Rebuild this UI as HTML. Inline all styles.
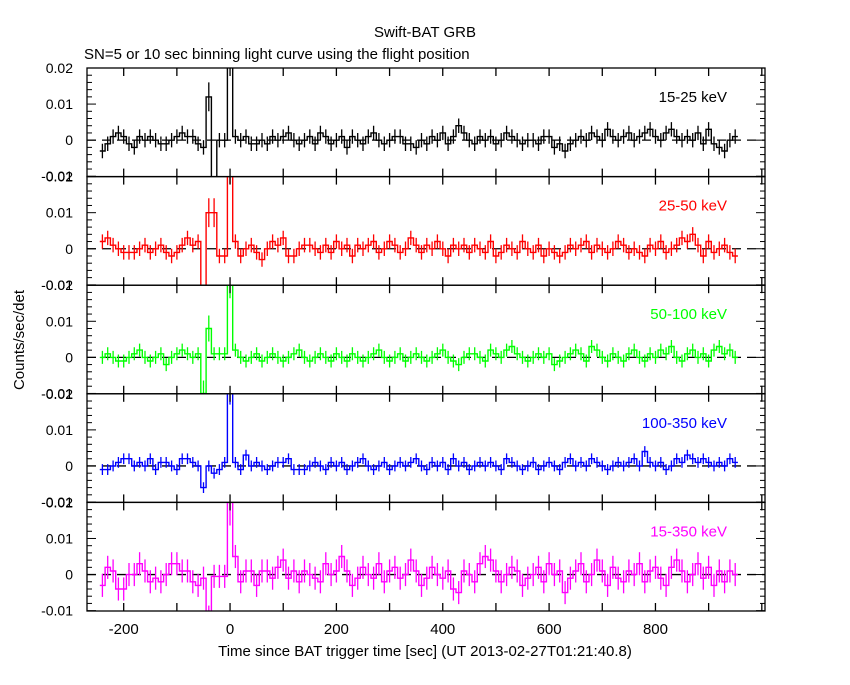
<!DOCTYPE html>
<html><head><meta charset="utf-8"><style>
body{margin:0;background:#fff}
svg{font-family:"Liberation Sans",sans-serif}
</style></head><body>
<svg id="chart" width="850" height="680" viewBox="0 0 850 680">
<rect width="850" height="680" fill="#fff"/>
<text x="425" y="37" font-size="15" text-anchor="middle">Swift-BAT GRB</text>
<text x="84" y="59" font-size="15">SN=5 or 10 sec binning light curve using the flight position</text>
<text transform="translate(24,340) rotate(-90)" font-size="15" text-anchor="middle">Counts/sec/det</text>
<text x="425" y="656" font-size="15" text-anchor="middle">Time since BAT trigger time [sec] (UT 2013-02-27T01:21:40.8)</text>
<g id="plots"></g>
</svg>
<script>
// data (units of 1e-3 counts/sec/det), 10 s bins starting at -245 s
const binStart = -245;
const binWidth = 10;
const bands = ["15-25 keV","25-50 keV","50-100 keV","100-350 keV","15-350 keV"];
const colors = ["#000","#f00","#0f0","#00f","#f0f"];
const errs = [2,2,1.8,1.5,3.2];
const yTicks = [0.02,0.01,0,-0.01];
const yTickLabels = ["0.02","0.01","0","-0.01"];
const xTicks = [-200,0,200,400,600,800];
const s1 = [-3,-1,1,2,1,-1,-2,1,0,1,0,-1,-1,0,1,2,1,1,-1,-2,
12,-20,0,0,25,1,0,1,-1,-1, 0,-1,1,0,1,2,0,-1,0,1, -1,2,1,-1,0,1,-2,1,0,-1,
1,2,0,-1,0,1,1,-1,-1,-2, 0,-1,1,0,2,-1,1,4,2,0, -1,1,0,1,-1,0,2,1,0,-1,
0,0,-1,1,1,-2,-1,-3,-1,0, 1,0,2,1,0,3,1,0,1,2, 0,1,2,3,1,0,2,3,1,0, 1,0,2,-1,3,-1,-2,-3,0,1];
const s2 = [2,3,1,0,-1,-1,-1,0,1,-1,0,1,-1,-2,-1,1,3,1,2,-15,
10,10,-2,-2,22,2,-2,0,1,-1, -3,0,2,1,3,-2,-2,0,1,1, 0,-1,1,-1,2,0,1,-2,1,0,
1,2,-1,0,2,1,-1,0,3,1, -1,1,0,2,0,-2,1,0,1,-1, 1,0,-1,2,-2,-1,1,0,-1,2,
0,-1,1,-2,0,-1,-2,-1,1,0, 1,2,-1,1,0,-1,0,2,1,-1, 0,-1,-2,1,0,2,-1,0,1,3, 2,4,1,-2,2,-1,0,1,-1,-2];
const s3 = [0,1,0,-1,-1,0,1,2,0,-1,0,1,-2,0,1,2,1,0,1,-10,
8,1,1,1,20,2,0,-1,0,1, -1,0,1,0,-1,0,1,2,0,-1, 0,1,0,-1,1,0,-1,1,0,-1,
0,1,2,0,-1,0,1,-1,0,1, 0,-1,0,1,2,0,-1,-2,0,1, 1,0,-1,2,1,0,2,3,1,0,
-1,0,1,0,1,-2,-1,0,1,2, 1,-1,3,2,0,-1,1,0,-1,1, 2,0,-1,1,0,2,1,3,0,-1, 1,2,0,1,-1,2,3,1,2,0];
const s4 = [-1,-1,0,1,2,2,0,1,0,2,-1,1,1,0,-1,2,2,1,0,-6,
0,-2,-1,1,20,1,-1,3,0,1, 0,-1,0,1,1,2,-1,-1,-1,0, 1,0,-1,1,0,1,-1,0,1,2,
0,-1,0,1,-1,0,1,0,1,2, 0,-1,1,0,1,-1,2,0,1,-1, 0,1,0,1,0,-1,2,1,0,-1,
0,1,-1,0,1,0,-1,1,2,0, 1,0,2,1,0,-1,0,1,0,1, 2,0,4,1,0,1,-1,0,2,1, 3,2,1,2,1,0,1,0,2,1];
const s5 = [-3,2,1,-4,-4,0,0,3,1,-2,-1,-2,0,3,3,1,1,-2,-3,-1,
-15,-0.5,-0.5,-0.5,20,5,-2,1,1,-3, 1,1,-1,2,4,-1,1,-2,1,0, -1,-2,3,0,1,5,1,-3,-1,2,
0,-1,3,-2,1,2,-1,0,4,1, -3,-1,2,0,-1,1,-4,-5,1,0, -2,3,5,4,1,-2,0,2,1,-3,
-1,0,2,-2,3,0,1,-5,-1,1, 3,-2,0,4,1,-3,2,-1,-2,1, 0,3,-2,1,2,-1,-3,2,4,1, -2,0,3,-1,2,-3,1,-2,1,0];
const series = [s1,s2,s3,s4,s5];

const NS="http://www.w3.org/2000/svg";
const X0=87, X1=765, tMin=-269, tMax=1006;
const panelTops=[68,176.6,285.2,393.8,502.4], PH=108.6, vMin=-0.0101, vMax=0.02;
const xs=t=>X0+(t-tMin)/(tMax-tMin)*(X1-X0);
const plots=document.getElementById('plots');
function mk(tag,attrs,parent){const e=document.createElementNS(NS,tag);for(const k in attrs)e.setAttribute(k,attrs[k]);(parent||plots).appendChild(e);return e;}

series.forEach((s,p)=>{
  const top=panelTops[p];
  const ys=v=>top+(vMax-v)/(vMax-vMin)*PH;
  const g=mk('g',{});
  
  
  const cp=mk('clipPath',{id:'c'+p},g);
  mk('rect',{x:X0,y:top,width:X1-X0,height:PH},cp);
  const inner=mk('g',{'clip-path':'url(#c'+p+')'},g);
  const zl=mk('line',{x1:X0,x2:X1,y1:ys(0),y2:ys(0),stroke:'#000','stroke-width':1.3,'stroke-dasharray':'9,6'},inner);
  
  
  let d='';
  s.forEach((v,i)=>{
    const t=binStart+i*binWidth, y=ys(v*1e-3);
    d+=(i?'L':'M')+xs(t).toFixed(1)+','+y.toFixed(1)+'L'+xs(t+binWidth).toFixed(1)+','+y.toFixed(1);
    const e=errs[p]*(Math.abs(v)>7?2:1)*1e-3;
    const xc=xs(t+binWidth/2).toFixed(1);
    const eb=mk('line',{x1:xc,x2:xc,y1:ys(v*1e-3+e),y2:ys(v*1e-3-e),stroke:colors[p],'stroke-width':1.3},inner);
    
    
  });
  const path=mk('path',{d:d,fill:'none',stroke:colors[p],'stroke-width':1.4},inner);
  
  
  const fr=mk('rect',{x:X0,y:top,width:X1-X0,height:PH,fill:'none',stroke:'#000','stroke-width':1.3},g);
  
  
  for(let v=-0.01;v<=0.0201;v+=0.002){
    const L=(Math.abs(Math.round(v*1000))%10===0)?9:5;
    mk('line',{x1:X0,x2:X0+L,y1:ys(v),y2:ys(v),stroke:'#000','stroke-width':1},g);
    mk('line',{x1:X1,x2:X1-L,y1:ys(v),y2:ys(v),stroke:'#000','stroke-width':1},g);
  }
  for(let t=-200;t<=1000;t+=100){
    mk('line',{x1:xs(t),x2:xs(t),y1:top,y2:top+8,stroke:'#000','stroke-width':1.3},g);
    mk('line',{x1:xs(t),x2:xs(t),y1:top+PH,y2:top+PH-8,stroke:'#000','stroke-width':1.3},g);
  }
  yTicks.forEach((v,k)=>{
    const tl=mk('text',{x:73,y:ys(v)+5,'font-size':14,'text-anchor':'end'},g);
    tl.textContent=yTickLabels[k];
    
    
  });
  const lb=mk('text',{x:727,y:top+34,'font-size':15,'text-anchor':'end',fill:colors[p]},g);
  lb.textContent=bands[p];
  
  
});
xTicks.forEach(t=>{
  const tl=mk('text',{x:xs(t),y:634,'font-size':15,'text-anchor':'middle'});
  tl.textContent=String(t);
  
  
});
</script>
</body></html>
